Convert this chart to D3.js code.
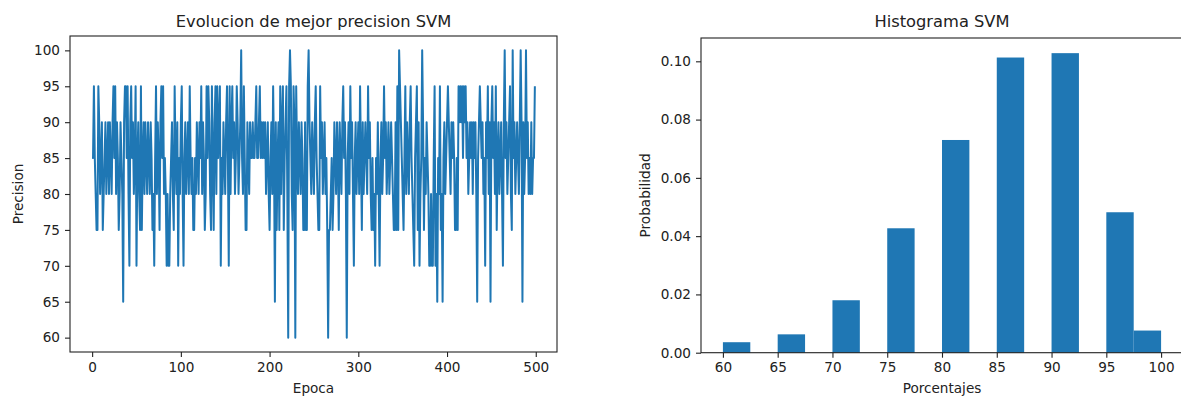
<!DOCTYPE html>
<html>
<head>
<meta charset="utf-8">
<style>
  body { margin: 0; background: #fff; }
  svg text { font-family: "DejaVu Sans", sans-serif; fill: #222; }
</style>
</head>
<body>
<script src="https://d3js.org/d3.v7.min.js" charset="utf-8"></script>
<script>
// best precision per epoch (0..499)
var precision = [
  85,85,95,85,80,75,75,95,90,80,
  85,90,75,80,85,90,80,85,90,80,
  90,85,80,90,95,85,95,80,90,85,
  75,80,90,85,80,65,90,95,95,85,
  95,80,70,90,95,85,90,80,85,95,
  70,85,90,80,75,95,75,85,90,80,
  90,85,80,90,85,80,90,85,75,80,
  70,85,95,80,90,85,75,90,95,85,
  95,80,85,80,70,80,70,70,80,85,
  90,80,75,95,85,80,90,70,85,80,
  90,95,80,70,85,90,80,85,90,80,
  95,85,80,85,75,75,85,80,90,85,
  80,90,85,95,80,90,85,75,80,95,
  85,95,90,80,75,95,85,75,90,95,
  80,95,85,90,95,70,85,80,90,85,
  80,90,95,85,70,95,80,90,95,85,
  90,80,85,95,90,80,85,90,100,85,
  80,95,85,75,75,90,85,80,90,85,
  85,90,85,85,90,95,85,85,90,95,
  85,90,85,90,85,90,80,85,90,80,
  75,85,90,80,95,85,65,90,75,85,
  90,75,95,80,90,95,75,85,90,95,
  80,60,95,100,95,80,75,95,90,60,
  95,85,80,90,85,80,90,85,75,75,
  90,75,75,95,100,90,85,80,90,85,
  80,90,95,85,80,75,75,95,85,90,
  80,85,90,80,85,75,60,75,75,80,
  85,75,80,90,85,80,90,85,75,90,
  85,80,90,95,85,90,80,60,85,90,
  80,95,85,90,80,70,85,90,80,85,
  90,80,95,85,75,90,80,85,90,85,
  80,95,85,90,80,75,85,75,80,70,
  85,80,90,80,70,85,90,80,85,95,
  85,90,80,85,90,80,85,90,85,80,
  75,75,90,75,95,75,100,95,90,85,
  80,75,85,95,80,90,85,80,90,95,
  85,80,75,70,85,90,95,75,90,70,
  80,85,100,90,75,85,80,90,85,80,
  70,70,80,70,70,85,95,70,80,65,
  85,80,95,75,80,65,85,90,80,85,
  90,95,90,85,80,90,85,90,85,75,
  75,85,75,95,90,95,90,95,85,95,
  90,95,85,90,80,85,90,85,90,80,
  90,85,90,80,65,85,90,95,90,85,
  90,80,85,70,90,85,95,80,90,65,
  90,95,85,90,80,95,75,85,90,80,
  85,90,80,70,90,100,85,90,80,85,
  90,95,80,75,100,85,90,80,85,90,
  85,80,90,100,90,65,90,80,85,100,
  85,90,80,85,80,90,80,85,85,95
];

// histogram (density), 16 bins of width 2.5 from 60 to 100
var binStarts = [60, 62.5, 65, 67.5, 70, 72.5, 75, 77.5, 80, 82.5, 85, 87.5, 90, 92.5, 95, 97.5];
var density   = [0.0036, 0, 0.0063, 0, 0.0180, 0, 0.0427, 0, 0.0730, 0, 0.1013, 0, 0.1028, 0, 0.0482, 0.0076];

var lineTicks = [0, 100, 200, 300, 400, 500];
var precTicks = [60, 65, 70, 75, 80, 85, 90, 95, 100];
var pctTicks = [60, 65, 70, 75, 80, 85, 90, 95, 100];
var probTicks = [0, 0.02, 0.04, 0.06, 0.08, 0.10];

var blue = "#1f77b4";
var fs = 13.6;

var svg = d3.select("body").append("svg").attr("width", 1181).attr("height", 396);

function styleAxis(g) {
  g.select(".domain").remove();
  g.selectAll(".tick line").attr("stroke", "#222").attr("stroke-width", 1.1);
  g.selectAll(".tick text").style("font-size", fs + "px").attr("fill", "#222");
}

function frame(x0, x1, y0, y1) {
  svg.append("rect").attr("x", x0).attr("y", y0).attr("width", x1 - x0).attr("height", y1 - y0)
    .attr("fill", "none").attr("stroke", "#222").attr("stroke-width", 1.1);
}

// ---------- left panel: line ----------
var L = { x0: 70, x1: 557, y0: 36, y1: 352 };
var xL = d3.scaleLinear().domain([-24.95, 523.95]).range([L.x0, L.x1]);
var yL = d3.scaleLinear().domain([58, 102]).range([L.y1, L.y0]);

var line = d3.line().x(function(d, i) { return xL(i); }).y(function(d) { return yL(d); });
svg.append("path").datum(precision)
  .attr("d", line).attr("fill", "none").attr("stroke", blue)
  .attr("stroke-width", 2).attr("stroke-linejoin", "round");

svg.append("g").attr("transform", "translate(0," + L.y1 + ")")
  .call(d3.axisBottom(xL).tickValues(lineTicks).tickSize(5).tickPadding(5)).call(styleAxis);
svg.append("g").attr("transform", "translate(" + L.x0 + ",0)")
  .call(d3.axisLeft(yL).tickValues(precTicks).tickSize(5).tickPadding(5)).call(styleAxis);
frame(L.x0, L.x1, L.y0, L.y1);

svg.append("text").attr("x", (L.x0 + L.x1) / 2).attr("y", 27).attr("text-anchor", "middle")
  .style("font-size", "16.3px").text("Evolucion de mejor precision SVM");
svg.append("text").attr("x", (L.x0 + L.x1) / 2).attr("y", 393).attr("text-anchor", "middle")
  .style("font-size", fs + "px").text("Epoca");
svg.append("text").attr("transform", "translate(23," + (L.y0 + L.y1) / 2 + ") rotate(-90)")
  .attr("text-anchor", "middle").style("font-size", fs + "px").text("Precision");

// ---------- right panel: histogram ----------
var R = { x0: 701, x1: 1183, y0: 38, y1: 352.7 };
var xR = d3.scaleLinear().domain([58, 102]).range([R.x0, R.x1]);
var yR = d3.scaleLinear().domain([0, 0.108]).range([R.y1, R.y0]);

svg.selectAll("rect.bar").data(binStarts.map(function(b, i) { return { b: b, d: density[i] }; })
    .filter(function(e) { return e.d > 0; }))
  .enter().append("rect").attr("class", "bar")
  .attr("x", function(e) { return xR(e.b); })
  .attr("width", function(e) { return xR(e.b + 2.5) - xR(e.b); })
  .attr("y", function(e) { return yR(e.d); })
  .attr("height", function(e) { return yR(0) - yR(e.d); })
  .attr("fill", blue);

svg.append("g").attr("transform", "translate(0," + R.y1 + ")")
  .call(d3.axisBottom(xR).tickValues(pctTicks).tickSize(5).tickPadding(5)).call(styleAxis);
svg.append("g").attr("transform", "translate(" + R.x0 + ",0)")
  .call(d3.axisLeft(yR).tickValues(probTicks).tickFormat(d3.format(".2f")).tickSize(5).tickPadding(5)).call(styleAxis);
frame(R.x0, R.x1, R.y0, R.y1);

svg.append("text").attr("x", (R.x0 + R.x1) / 2).attr("y", 27).attr("text-anchor", "middle")
  .style("font-size", "16.3px").text("Histograma SVM");
svg.append("text").attr("x", (R.x0 + R.x1) / 2).attr("y", 393).attr("text-anchor", "middle")
  .style("font-size", fs + "px").text("Porcentajes");
svg.append("text").attr("transform", "translate(650," + (R.y0 + R.y1) / 2 + ") rotate(-90)")
  .attr("text-anchor", "middle").style("font-size", fs + "px").text("Probabilidad");
</script>
</body>
</html>
